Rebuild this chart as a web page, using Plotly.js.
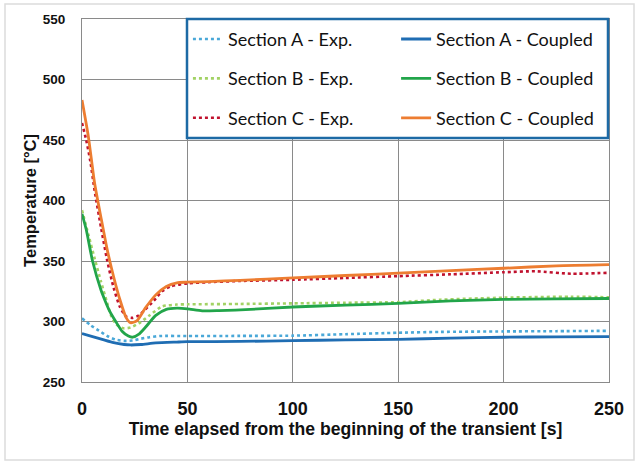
<!DOCTYPE html>
<html>
<head>
<meta charset="utf-8">
<script src="https://cdn.plot.ly/plotly-3.0.1.min.js"></script>
<style>html,body{margin:0;padding:0;background:#fff;}#chart{width:635px;height:465px;}</style>
</head>
<body>
<div id="chart"></div>
<script>
// Section A - Exp.
const tAexp = [0, 4, 8, 12, 16, 20, 24, 28, 32, 37, 50, 75, 100, 125, 150, 170, 200, 225, 250];
const yAexp = [302.6, 297, 292.5, 288, 285, 284, 284.3, 285.8, 287, 288, 288, 288.1, 288.3, 289.5, 290.7, 291.4, 291.8, 292, 292.3];
// Section A - Coupled
const tAcpl = [0, 5, 10, 15, 20, 23, 28, 35, 45, 50, 75, 100, 125, 150, 175, 200, 225, 250];
const yAcpl = [290, 287.5, 285, 282.5, 281, 280.6, 281, 282.3, 283, 283.3, 283.5, 284.2, 284.8, 285.3, 286.2, 287, 287.3, 287.5];
// Section B - Exp.
const tBexp = [0, 3, 6, 9, 12, 14, 16, 18, 20, 23, 27, 32, 38, 45, 50, 75, 100, 125, 150, 170, 200, 232, 250];
const yBexp = [392, 372, 352, 333, 315, 304, 298, 295.5, 294.3, 295, 298.5, 305, 312.5, 314, 314.2, 314.5, 315, 315.5, 316, 318, 319.7, 320.5, 320];
// Section B - Coupled
const tBcpl = [0, 2, 5, 9, 11, 13, 16, 19, 22, 24, 27, 30, 35, 40, 45, 50, 57, 65, 80, 100, 125, 150, 175, 200, 225, 250];
const yBcpl = [389, 376, 350, 326, 317, 309, 300, 292, 288, 287, 289.5, 295, 305, 310, 311, 310.5, 308.8, 309, 310, 312, 313.5, 315, 317, 318.3, 318.7, 319];
// Section C - Exp.
const tCexp = [0, 2, 4, 6, 9, 12, 15, 18, 21, 24, 27, 30, 34, 38, 42, 50, 60, 75, 100, 125, 150, 175, 200, 215, 232, 250];
const yCexp = [464, 450, 432, 408, 378, 350, 328, 312, 304, 303, 305, 310, 317, 325, 329, 331.5, 332.5, 333.5, 334.5, 336, 337.5, 339, 340.7, 341.5, 339.5, 340.3];
// Section C - Coupled
const tCcpl = [0, 3, 6, 9, 12, 15, 18, 21, 23, 26, 30, 35, 40, 45, 50, 60, 75, 100, 125, 150, 175, 200, 225, 250];
const yCcpl = [483, 453, 414, 386, 359, 337, 318, 303, 299, 300.5, 311, 322, 329, 332, 332.5, 333, 334, 336, 338, 340, 342, 344, 346, 347];

const xTicks = [0, 50, 100, 150, 200, 250];
const yTicks = [250, 300, 350, 400, 450, 500, 550];

function tr(name, x, y, color, dash, legend, grp) {
  return {x: x, y: y, name: name, type: 'scatter', mode: 'lines',
    line: {color: color, width: dash ? 2.6 : 2.8, dash: dash || 'solid', shape: 'spline', smoothing: 0.6},
    legend: legend, legendgroup: grp, hoverinfo: 'skip'};
}

const data = [
  tr('Section A - Exp.', tAexp, yAexp, '#4aa8d8', 'dot', 'legend', 'a'),
  tr('Section B - Exp.', tBexp, yBexp, '#a2d264', 'dot', 'legend', 'b'),
  tr('Section C - Exp.', tCexp, yCexp, '#c0122e', 'dot', 'legend', 'c'),
  tr('Section A - Coupled', tAcpl, yAcpl, '#1f6db3', null, 'legend2', 'd'),
  tr('Section B - Coupled', tBcpl, yBcpl, '#22a54a', null, 'legend2', 'e'),
  tr('Section C - Coupled', tCcpl, yCcpl, '#ed7d31', null, 'legend2', 'f')
];

const legFont = 'Lato, "Open Sans", sans-serif';
const axFont = '"Liberation Sans", Arial, sans-serif';
const legendCommon = {orientation: 'v', traceorder: 'grouped', tracegroupgap: 13,
  bgcolor: 'rgba(0,0,0,0)', borderwidth: 0, font: {family: legFont, size: 18, color: '#111'},
  xanchor: 'left', yanchor: 'top', y: 0.995, itemwidth: 30};

const layout = {
  width: 635, height: 465,
  margin: {l: 82, r: 26, t: 19, b: 83},
  paper_bgcolor: '#ffffff', plot_bgcolor: '#ffffff',
  font: {family: axFont, color: '#111'},
  showlegend: true,
  legend: Object.assign({}, legendCommon, {x: 0.201}),
  legend2: Object.assign({}, legendCommon, {x: 0.596}),
  xaxis: {range: [0, 250], tickvals: xTicks, ticktext: xTicks.map(v => '<b>' + v + '</b>'),
    showgrid: true, gridcolor: '#8a8a8a', gridwidth: 1, zeroline: false,
    showline: true, linecolor: '#8a8a8a', linewidth: 1, mirror: true, ticks: '',
    tickfont: {family: axFont, size: 18, color: '#111'}, ticklabelstandoff: 10,
    title: {text: '<b>Time elapsed from the beginning of the transient [s]</b>', font: {family: axFont, size: 17.6, color: '#111'}, standoff: 4}},
  yaxis: {range: [250, 550], tickvals: yTicks, ticktext: yTicks.map(v => '<b>' + v + '</b>'),
    showgrid: true, gridcolor: '#8a8a8a', gridwidth: 1, zeroline: false,
    showline: true, linecolor: '#8a8a8a', linewidth: 1, mirror: true, ticks: '',
    tickfont: {family: axFont, size: 13.5, color: '#111'}, ticklabelstandoff: 13,
    title: {text: '<b>Temperature [°C]</b>', font: {family: axFont, size: 16.5, color: '#111'}, standoff: 1}},
  shapes: [
    {type: 'rect', xref: 'paper', yref: 'paper', layer: 'above',
      x0: (187 - 82) / 527, x1: (608 - 82) / 527, y0: (382 - 138) / 363, y1: 1.0,
      fillcolor: '#ffffff', line: {color: '#1d6aa5', width: 2.5}},
    {type: 'rect', xref: 'paper', yref: 'paper', layer: 'below',
      x0: (5 - 82) / 527, x1: (634 - 82) / 527, y0: (382 - 460) / 363, y1: (382 - 4) / 363,
      fillcolor: 'rgba(0,0,0,0)', line: {color: '#dcdcdc', width: 1.5}}
  ]
};

Plotly.newPlot('chart', data, layout, {displayModeBar: false, staticPlot: true});
</script>
</body>
</html>
